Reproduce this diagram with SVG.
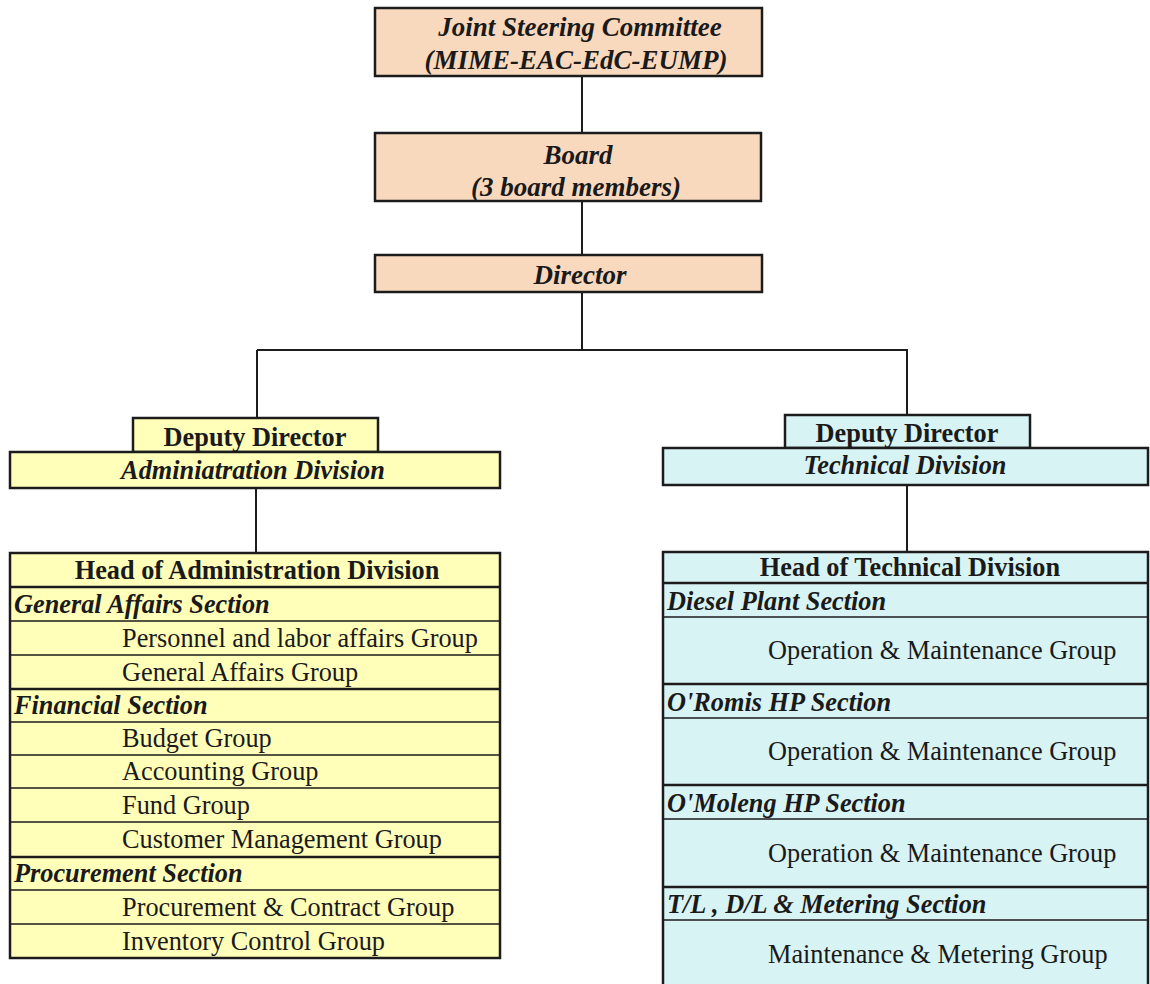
<svg xmlns="http://www.w3.org/2000/svg" width="1150" height="984" viewBox="0 0 1150 984">
<style>
text{font-family:"Liberation Serif","Times New Roman",serif;font-size:26.3px;fill:#1a1a1a}
.bi{font-weight:bold;font-style:italic}
.b{font-weight:bold}
.c{text-anchor:middle}
.top{font-size:27px}
.box{stroke:#1c1c1c;stroke-width:2.5}
.peach{fill:#F8D9BE}
.yel{fill:#FFFFBA}
.cyan{fill:#D8F3F4}
.ln{stroke:#1c1c1c;stroke-width:1.5}
.lt{stroke:#1c1c1c;stroke-width:2.5}
.conn{stroke:#1c1c1c;stroke-width:2;fill:none}
</style>
<rect width="1150" height="984" fill="#ffffff"/>
<g id="connectors">
<path class="conn" d="M582 76V133M582 201V255M582 292V350M257 350H908M257 350V418M907 350V415M256 488V553M907 485V552"/>
</g>
<g id="jsc">
<rect class="box peach" x="375" y="8" width="387" height="68"/>
<text class="bi c top" x="580" y="36">Joint Steering Committee</text>
<text class="bi c top" x="576" y="69">(MIME-EAC-EdC-EUMP)</text>
</g>
<g id="board">
<rect class="box peach" x="375" y="133" width="386" height="68"/>
<text class="bi c top" x="578" y="164">Board</text>
<text class="bi c top" x="576" y="196">(3 board members)</text>
</g>
<g id="director">
<rect class="box peach" x="375" y="255" width="387" height="37"/>
<text class="bi c top" x="580" y="284">Director</text>
</g>
<g id="deputy-admin">
<rect class="box yel" x="133" y="418" width="245" height="34"/>
<rect class="box yel" x="10" y="452" width="490" height="36"/>
<text class="b c" x="255" y="446">Deputy Director</text>
<text class="bi c" x="253" y="479">Adminiatration Division</text>
</g>
<g id="deputy-tech">
<rect class="box cyan" x="785" y="415" width="245" height="33"/>
<rect class="box cyan" x="663" y="448" width="485" height="37"/>
<text class="b c" x="907" y="442">Deputy Director</text>
<text class="bi c" x="905" y="474">Technical Division</text>
</g>
<g id="admin-table">
<rect class="box yel" x="10" y="553" width="490" height="405"/>
<path class="lt" d="M10 587H500M10 689H500M10 857H500"/>
<path class="ln" d="M10 621H500M10 655H500M10 722H500M10 755H500M10 788H500M10 822H500M10 890H500M10 924H500"/>
<text class="b c" x="257" y="579">Head of Administration Division</text>
<text class="bi" x="14" y="613">General Affairs Section</text>
<text x="122" y="647">Personnel and labor affairs Group</text>
<text x="122" y="681">General Affairs Group</text>
<text class="bi" x="14" y="714">Financial Section</text>
<text x="122" y="747">Budget Group</text>
<text x="122" y="780">Accounting Group</text>
<text x="122" y="814">Fund Group</text>
<text x="122" y="848">Customer Management Group</text>
<text class="bi" x="14" y="882">Procurement Section</text>
<text x="122" y="916">Procurement &amp; Contract Group</text>
<text x="122" y="950">Inventory Control Group</text>
</g>
<g id="tech-table">
<rect class="box cyan" x="663" y="552" width="485" height="440"/>
<path class="lt" d="M663 583H1148M663 684H1148M663 785H1148M663 887H1148"/>
<path class="ln" d="M663 617H1148M663 718H1148M663 819H1148M663 920H1148"/>
<text class="b c" x="910" y="576">Head of Technical Division</text>
<text class="bi" x="667" y="610">Diesel Plant Section</text>
<text x="768" y="659">Operation &amp; Maintenance Group</text>
<text class="bi" x="667" y="711">O'Romis HP Section</text>
<text x="768" y="760">Operation &amp; Maintenance Group</text>
<text class="bi" x="667" y="812">O'Moleng HP Section</text>
<text x="768" y="862">Operation &amp; Maintenance Group</text>
<text class="bi" x="667" y="913">T/L , D/L &amp; Metering Section</text>
<text x="768" y="963">Maintenance &amp; Metering Group</text>
</g>
</svg>
